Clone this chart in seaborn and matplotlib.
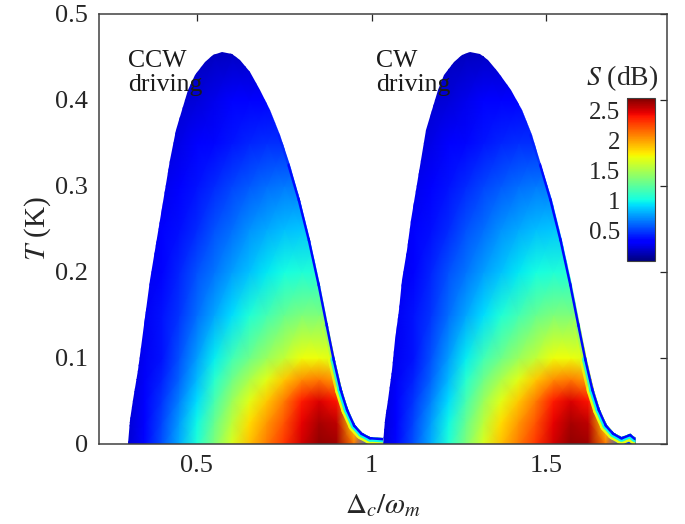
import numpy as np
import seaborn as sns
import matplotlib
matplotlib.use("Agg")
from matplotlib import pyplot as plt
from matplotlib.patches import Polygon
from matplotlib.collections import LineCollection

sns.set_theme(style="white")
plt.rcParams['font.family'] = 'serif'
plt.rcParams['font.serif'] = ['Liberation Serif', 'DejaVu Serif']
plt.rcParams['mathtext.fontset'] = 'stix'

# S (dB), on a grid local to one lobe (left lobe coordinates)
detuning_grid = [0.30, 0.35, 0.40, 0.45, 0.50, 0.55, 0.60, 0.65, 0.70, 0.75,
                 0.80, 0.85, 0.90, 0.95, 1.00, 1.05]
temp_grid = [0.0, 0.025, 0.05, 0.075, 0.10, 0.15, 0.20, 0.25, 0.30, 0.35, 0.40, 0.45, 0.50]
S_table = [
    [0.20, 0.35, 0.55, 0.80, 1.05, 1.35, 1.65, 1.90, 2.10, 2.30, 2.50, 2.65, 2.62, 2.10, 0.60, 0.30],
    [0.20, 0.33, 0.52, 0.75, 1.00, 1.28, 1.56, 1.82, 2.02, 2.22, 2.45, 2.60, 2.55, 1.80, 0.40, 0.30],
    [0.20, 0.31, 0.48, 0.68, 0.92, 1.18, 1.45, 1.68, 1.88, 2.10, 2.38, 2.48, 2.40, 1.50, 0.30, 0.30],
    [0.20, 0.29, 0.43, 0.61, 0.83, 1.07, 1.30, 1.50, 1.68, 1.88, 2.05, 2.10, 2.00, 1.20, 0.30, 0.30],
    [0.20, 0.28, 0.38, 0.55, 0.75, 0.97, 1.15, 1.30, 1.45, 1.58, 1.72, 1.72, 1.65, 0.90, 0.30, 0.30],
    [0.20, 0.28, 0.38, 0.48, 0.63, 0.78, 0.92, 1.05, 1.17, 1.28, 1.36, 1.36, 1.30, 0.60, 0.30, 0.30],
    [0.20, 0.27, 0.34, 0.44, 0.55, 0.65, 0.75, 0.85, 0.95, 1.02, 1.05, 1.05, 1.00, 0.40, 0.30, 0.30],
    [0.20, 0.25, 0.30, 0.37, 0.45, 0.55, 0.63, 0.72, 0.79, 0.84, 0.86, 0.85, 0.80, 0.30, 0.30, 0.30],
    [0.20, 0.22, 0.26, 0.30, 0.38, 0.45, 0.52, 0.58, 0.63, 0.66, 0.66, 0.65, 0.60, 0.30, 0.30, 0.30],
    [0.18, 0.20, 0.22, 0.25, 0.30, 0.35, 0.40, 0.44, 0.46, 0.46, 0.45, 0.42, 0.40, 0.30, 0.30, 0.30],
    [0.15, 0.16, 0.18, 0.20, 0.22, 0.26, 0.30, 0.32, 0.31, 0.29, 0.27, 0.25, 0.25, 0.20, 0.20, 0.20],
    [0.12, 0.12, 0.13, 0.14, 0.15, 0.16, 0.17, 0.17, 0.16, 0.15, 0.14, 0.14, 0.14, 0.14, 0.14, 0.14],
    [0.10, 0.10, 0.10, 0.10, 0.10, 0.10, 0.10, 0.10, 0.10, 0.10, 0.10, 0.10, 0.10, 0.10, 0.10, 0.10],
]
lobe_offsets = [0.0, 0.72]   # CCW lobe, CW lobe

# outline of the coloured region of each lobe (left edge, dome, right edge, tail)
ccw_edge_x = [0.302, 0.308, 0.317, 0.331, 0.342, 0.354, 0.365, 0.380, 0.394, 0.408, 0.423,
              0.440, 0.457, 0.474, 0.494, 0.523, 0.546, 0.572, 0.600, 0.623, 0.652, 0.681,
              0.709, 0.738, 0.766, 0.795, 0.824, 0.852, 0.875, 0.895, 0.915, 0.933, 0.953,
              0.973, 0.996, 1.033, 1.033]
ccw_edge_T = [0.0, 0.028, 0.051, 0.086, 0.121, 0.156, 0.191, 0.226, 0.260, 0.295, 0.330,
              0.365, 0.388, 0.412, 0.429, 0.444, 0.452, 0.456, 0.453, 0.447, 0.433, 0.412,
              0.388, 0.359, 0.324, 0.284, 0.237, 0.185, 0.138, 0.098, 0.063, 0.040, 0.022,
              0.013, 0.008, 0.007, 0.0]
cw_edge_x = [1.033, 1.038, 1.046, 1.058, 1.068, 1.078, 1.088, 1.101, 1.113, 1.126, 1.140,
             1.156, 1.172, 1.189, 1.208, 1.236, 1.258, 1.282, 1.310, 1.333, 1.362, 1.400,
             1.429, 1.458, 1.486, 1.515, 1.544, 1.572, 1.595, 1.615, 1.635, 1.653, 1.673,
             1.693, 1.715, 1.740, 1.755, 1.755]
cw_edge_T = [0.0, 0.028, 0.051, 0.086, 0.121, 0.156, 0.191, 0.226, 0.260, 0.295, 0.330,
             0.365, 0.388, 0.412, 0.429, 0.444, 0.452, 0.456, 0.453, 0.447, 0.433, 0.412,
             0.388, 0.359, 0.324, 0.284, 0.237, 0.185, 0.138, 0.098, 0.063, 0.040, 0.022,
             0.013, 0.008, 0.012, 0.007, 0.0]
rim_start = 18   # the right side of each lobe (after the top) has a thin rim where S -> 0

fig = plt.figure(figsize=(6.85, 5.24), dpi=100)
ax = fig.add_axes([0.1445, 0.1527, 0.8292, 0.8206])

cmap = plt.get_cmap('jet')
S = np.array(S_table)
for off, ex, eT in zip(lobe_offsets, [ccw_edge_x, cw_edge_x], [ccw_edge_T, cw_edge_T]):
    mesh = ax.pcolormesh(np.array(detuning_grid) + off, temp_grid, S, shading='gouraud',
                         cmap=cmap, vmin=0, vmax=2.7)
    lobe = Polygon(np.column_stack([ex, eT]), closed=True, transform=ax.transData,
                   facecolor='none', edgecolor='none')
    ax.add_patch(lobe)
    mesh.set_clip_path(lobe)

    pts = np.column_stack([ex, eT])[rim_start:-1]
    segs = np.stack([pts[:-1], pts[1:]], axis=1)
    t_mid = (pts[:-1, 1] + pts[1:, 1]) / 2
    for lw, val, t_fade in [(10, 1.7, 0.13), (6.5, 1.0, 0.13), (3.5, 0.35, 0.36)]:
        cols = np.tile(cmap(val / 2.7), (len(segs), 1))
        cols[:, 3] = np.clip((t_fade - t_mid) / 0.06, 0, 1)
        rim = LineCollection(segs, colors=cols, linewidths=lw, capstyle='round')
        ax.add_collection(rim)
        rim.set_clip_path(lobe)

ax.set_xlim(0.22, 1.845)
ax.set_ylim(0, 0.5)
ax.set_xticks([0.5, 1, 1.5])
ax.set_xticklabels(['0.5', '1', '1.5'])
ax.set_yticks([0, 0.1, 0.2, 0.3, 0.4, 0.5])
ax.set_yticklabels(['0', '0.1', '0.2', '0.3', '0.4', '0.5'])
ax.tick_params(direction='in', top=True, right=True, length=5, width=0.9,
               colors='#262626', labelsize=19, pad=8)
for sp in ax.spines.values():
    sp.set_color('#404040')
    sp.set_linewidth(1.1)

ax.set_xlabel(r'$\Delta_c/\omega_m$', fontsize=21, color='#262626', labelpad=11)
ax.set_ylabel(r'$T$ (K)', fontsize=21, color='#262626', labelpad=1)

ax.text(0.303, 0.458, 'CCW\ndriving', fontsize=18.5, va='top', ha='left',
        linespacing=1.1, color='#1a1a1a')
ax.text(1.013, 0.458, 'CW\ndriving', fontsize=18.5, va='top', ha='left',
        linespacing=1.1, color='#1a1a1a')

cax = fig.add_axes([0.9153, 0.502, 0.041, 0.311])
cb = fig.colorbar(mesh, cax=cax)
cb.set_ticks([0.5, 1, 1.5, 2, 2.5])
cb.set_ticklabels(['0.5', '1', '1.5', '2', '2.5'])
cax.yaxis.set_ticks_position('left')
cax.tick_params(length=0, labelsize=18, colors='#262626', pad=5)
cb.outline.set_edgecolor('#404040')
cb.outline.set_linewidth(0.8)
fig.text(0.908, 0.851, r'$S$ (dB)', fontsize=20, ha='center', va='center', color='#262626')

fig.savefig('out.png', dpi=100)
